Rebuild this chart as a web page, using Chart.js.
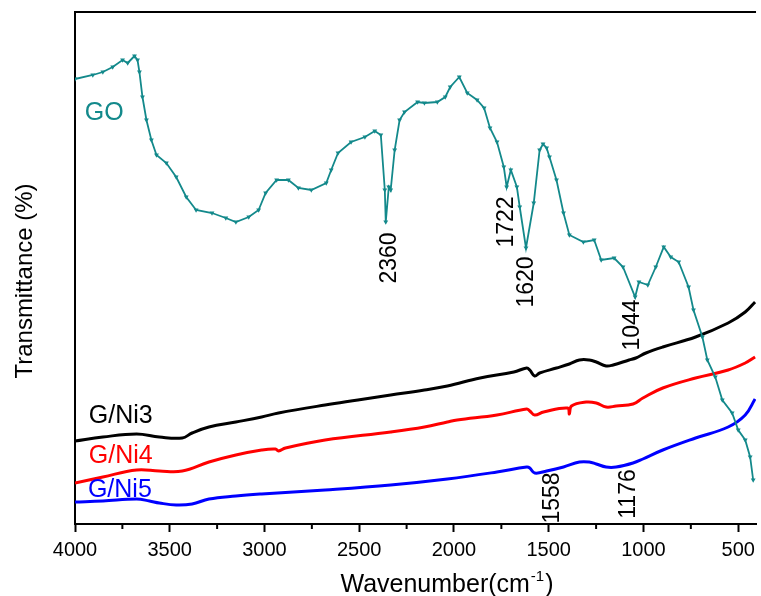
<!DOCTYPE html>
<html>
<head>
<meta charset="utf-8">
<script src="https://cdn.jsdelivr.net/npm/chart.js@4.4.1/dist/chart.umd.min.js"></script>
<style>
html, body { margin: 0; padding: 0; background: #fff; }
#wrap { width: 761px; height: 596px; }
</style>
</head>
<body>
<div id="wrap"><canvas id="ftirChart"></canvas></div>
<script>
// FTIR spectra, values (arbitrary transmittance units)
let goWavenumber = [4000,3906,3853,3801,3749,3722,3686,3670,3660,3644,
    3623,3597,3570,3518,3466,3413,3361,3277,3204,3151,
    3083,3031,2994,2936,2874,2821,2753,2674,2648,2612,
    2543,2470,2418,2386,2365,2360,2344,2334,2313,2287,
    2261,2192,2156,2088,2046,2020,1972,1930,1878,1841,
    1810,1773,1737,1722,1700,1668,1653,1620,1579,1548,
    1530,1511,1496,1459,1422,1391,1317,1260,1223,1155,
    1108,1044,1024,977,935,893,856,814,762,736,
    689,663,621,584,532,500,463,437,421];
let goValue = [445,449,452,457,464,461,468,464,452,427,
    404,384,369,361,347,327,314,311,306,302,
    307,314,331,344,344,336,334,341,354,371,
    382,387,393,389,334,302,337,334,374,404,
    412,422,421,422,427,437,447,431,424,416,
    396,382,357,337,354,337,317,276,321,374,
    380,376,367,344,311,289,282,284,264,266,
    257,227,242,239,257,277,267,262,237,214,
    187,164,147,124,111,94,84,67,44];

let ni3Wavenumber = [4000,3853,3675,3555,3434,3382,3293,3151,3015,2926,
    2680,2507,2334,2156,2035,1862,1684,1616,1600,1574,
    1548,1459,1391,1338,1286,1249,1197,1160,1076,1040,
    987,898,725,553,463,411];
let ni3Value = [83,87,90,87,86,91,97,102,107,111,
    119,124,129,134,138,146,152,156,154,148,
    151,156,160,164,164,162,158,159,164,166,
    171,177,187,201,212,222];

let ni4Wavenumber = [4000,3853,3675,3555,3434,3293,3151,3015,2942,2926,
    2889,2680,2334,2156,2035,1983,1773,1616,1600,1574,
    1527,1400,1391,1380,1302,1249,1197,1144,1055,1003,
    898,725,553,463,411];
let ni4Value = [41,47,54,53,53,62,69,74,75,73,
    76,84,92,97,102,104,109,115,113,109,
    112,116,110,118,122,121,117,118,120,126,
    136,146,154,161,167];

let ni5Wavenumber = [4000,3853,3675,3607,3555,3466,3382,3293,3151,3015,
    2680,2334,2035,1773,1616,1600,1574,1511,1422,1338,
    1286,1249,1197,1144,1055,1003,898,725,553,463,
    411];
let ni5Value = [22,23,25,23,21,19,20,25,28,30,
    34,39,45,52,57,56,51,53,57,62,
    62,60,57,57,61,65,74,86,97,109,
    125];

let majorTicks = [4000,3500,3000,2500,2000,1500,1000,500];
let minorTicks = [3750,3250,2750,2250,1750,1250,750];

const TEAL = '#13898b';
const FONT = '"Liberation Sans", Arial, sans-serif';

// where the text sits, in data coordinates
let seriesTags = [
    {text: 'GO', wn: 3948, y: 411, color: TEAL},
    {text: 'G/Ni3', wn: 3927, y: 108, color: '#000000'},
    {text: 'G/Ni4', wn: 3927, y: 68, color: '#ff0000'},
    {text: 'G/Ni5', wn: 3932, y: 34, color: '#0000ff'}
];
let peakTags = [
    {text: '2360', wn: 2339, y: 266},
    {text: '1722', wn: 1721, y: 302},
    {text: '1620', wn: 1616, y: 242},
    {text: '1044', wn: 1055, y: 199},
    {text: '1558', wn: 1480, y: 26},
    {text: '1176', wn: 1076, y: 30}
];

function toPoints(xs, ys) {
    return xs.map((v, i) => ({x: v, y: ys[i]}));
}

const extras = {
    id: 'ftirExtras',
    afterDatasetsDraw(chart) {
        const {ctx, chartArea, scales} = chart;
        const x = scales.x, y = scales.y;
        ctx.save();
        ctx.strokeStyle = '#000';
        ctx.lineWidth = 2;
        ctx.beginPath();
        ctx.moveTo(chartArea.left - 1, chartArea.top);
        ctx.lineTo(chartArea.right, chartArea.top);
        ctx.stroke();
        minorTicks.forEach(v => {
            let px = x.getPixelForValue(v);
            ctx.beginPath();
            ctx.moveTo(px, chartArea.bottom);
            ctx.lineTo(px, chartArea.bottom + 5);
            ctx.stroke();
        });

        ctx.font = '25px ' + FONT;
        ctx.textAlign = 'left';
        ctx.textBaseline = 'middle';
        seriesTags.forEach(t => {
            ctx.fillStyle = t.color;
            ctx.fillText(t.text, x.getPixelForValue(t.wn), y.getPixelForValue(t.y));
        });

        ctx.font = '23px ' + FONT;
        ctx.fillStyle = '#000';
        ctx.textAlign = 'center';
        peakTags.forEach(t => {
            ctx.save();
            ctx.translate(x.getPixelForValue(t.wn), y.getPixelForValue(t.y));
            ctx.rotate(-Math.PI / 2);
            ctx.fillText(t.text, 0, 0);
            ctx.restore();
        });

        // axis titles (the original frame is cropped on the right, so the
        // x title sits off-centre)
        ctx.textBaseline = 'alphabetic';
        ctx.textAlign = 'left';
        let main = 'Wavenumber(cm', sup = '-1', close = ')';
        ctx.font = '25px ' + FONT;
        let w1 = ctx.measureText(main).width;
        let w3 = ctx.measureText(close).width;
        ctx.font = '15px ' + FONT;
        let w2 = ctx.measureText(sup).width;
        let tx = 447 - (w1 + w2 + w3 + 2) / 2;
        let ty = 592;
        ctx.font = '25px ' + FONT;
        ctx.fillText(main, tx, ty);
        ctx.font = '15px ' + FONT;
        ctx.fillText(sup, tx + w1 + 1, ty - 11);
        ctx.font = '25px ' + FONT;
        ctx.fillText(close, tx + w1 + w2 + 2, ty);

        ctx.save();
        ctx.translate(32, 281);
        ctx.rotate(-Math.PI / 2);
        ctx.textAlign = 'center';
        ctx.font = '24px ' + FONT;
        ctx.fillText('Transmittance (%)', 0, 0);
        ctx.restore();

        ctx.restore();
    }
};

let ftirChart = new Chart(document.getElementById('ftirChart'), {
    type: 'line',
    data: {
        datasets: [
            {
                label: 'GO',
                data: toPoints(goWavenumber, goValue),
                borderColor: TEAL,
                backgroundColor: TEAL,
                borderWidth: 1.8,
                tension: 0,
                pointStyle: 'triangle',
                pointRotation: 180,
                pointRadius: 2.8,
                pointBorderWidth: 0
            },
            {
                label: 'G/Ni3',
                data: toPoints(ni3Wavenumber, ni3Value),
                borderColor: '#000000',
                borderWidth: 3,
                tension: 0.4,
                pointRadius: 0
            },
            {
                label: 'G/Ni4',
                data: toPoints(ni4Wavenumber, ni4Value),
                borderColor: '#ff0000',
                borderWidth: 3,
                tension: 0.4,
                pointRadius: 0
            },
            {
                label: 'G/Ni5',
                data: toPoints(ni5Wavenumber, ni5Value),
                borderColor: '#0000ff',
                borderWidth: 3,
                tension: 0.4,
                pointRadius: 0
            }
        ]
    },
    options: {
        responsive: true,
        maintainAspectRatio: false,
        animation: false,
        layout: { padding: { top: 12, right: 0, left: 0, bottom: 0 } },
        plugins: {
            legend: { display: false },
            tooltip: { enabled: false }
        },
        scales: {
            x: {
                type: 'linear',
                reverse: true,
                min: 406,
                max: 4000,
                afterBuildTicks: (scale) => { scale.ticks = majorTicks.map(v => ({value: v})); },
                afterFit: (scale) => { scale.height = 72; },
                grid: {
                    drawOnChartArea: false,
                    drawTicks: true,
                    tickLength: 8,
                    tickWidth: 2,
                    tickColor: '#000'
                },
                border: { display: true, color: '#000', width: 2 },
                ticks: {
                    color: '#000',
                    padding: 6,
                    maxRotation: 0,
                    font: { size: 20, family: FONT },
                    callback: (v) => String(v)
                },
                title: { display: false }
            },
            y: {
                min: 0,
                max: 512,
                afterFit: (scale) => { scale.width = 75; },
                grid: { display: false },
                border: { display: true, color: '#000', width: 2 },
                ticks: { display: false },
                title: { display: false }
            }
        }
    },
    plugins: [extras]
});
</script>
</body>
</html>
